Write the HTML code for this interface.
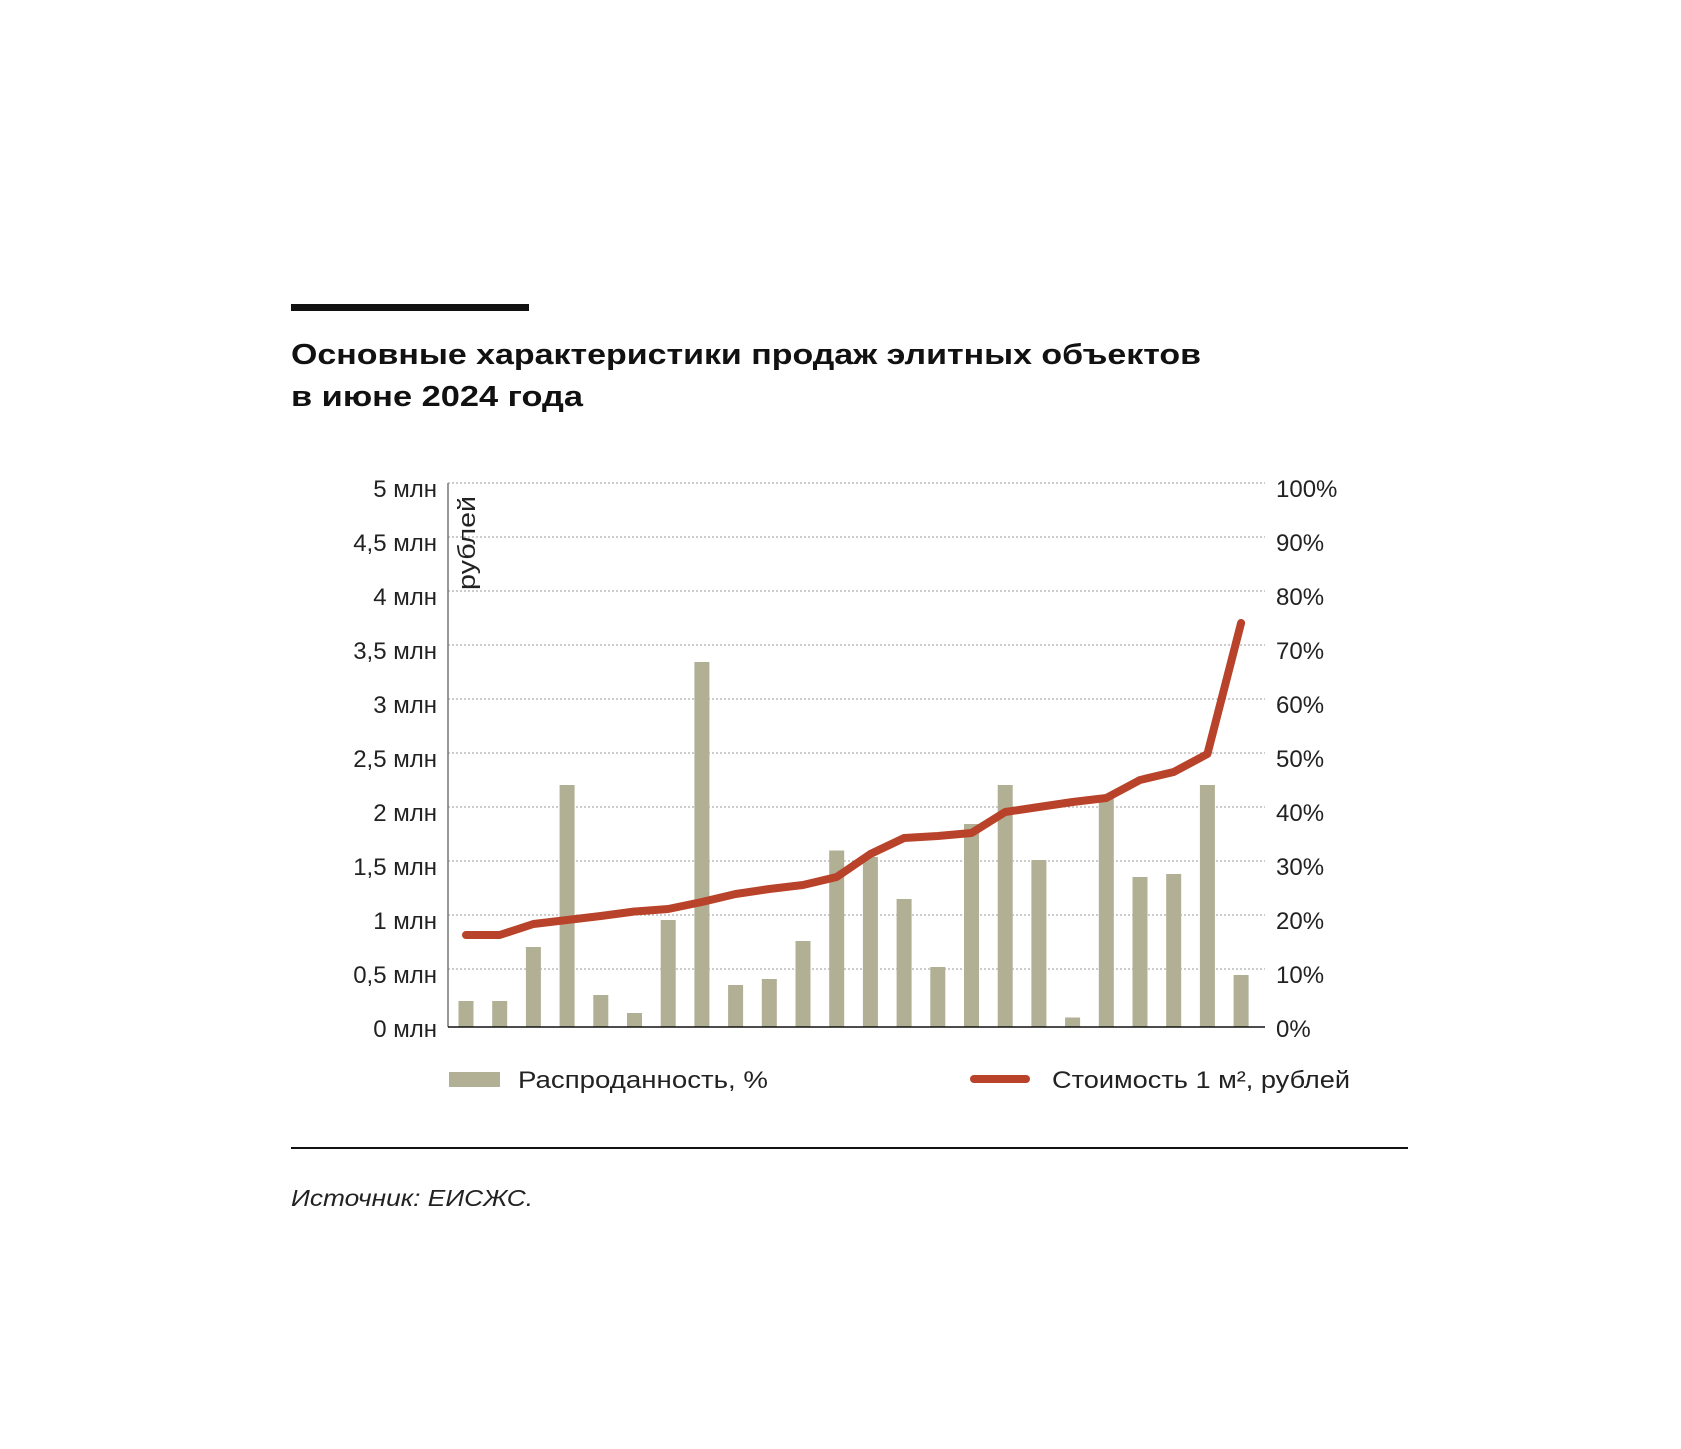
<!DOCTYPE html>
<html><head><meta charset="utf-8"><style>
html,body{margin:0;padding:0;background:#fff;}
svg{display:block;}
text{font-family:"Liberation Sans",sans-serif;fill:#222;}
</style></head><body>
<svg width="1681" height="1449" viewBox="0 0 1681 1449" xmlns="http://www.w3.org/2000/svg">
<rect x="291" y="304" width="238" height="7" fill="#111"/>
<text x="291" y="364" font-size="29" font-weight="600" textLength="910" lengthAdjust="spacingAndGlyphs" style="fill:#111">Основные характеристики продаж элитных объектов</text>
<text x="291" y="406" font-size="29" font-weight="600" textLength="292" lengthAdjust="spacingAndGlyphs" style="fill:#111">в июне 2024 года</text>
<g stroke="#999" stroke-width="1" stroke-dasharray="2,2">
<line x1="448" y1="483" x2="1265" y2="483"/><line x1="448" y1="537" x2="1265" y2="537"/>
<line x1="448" y1="591" x2="1265" y2="591"/><line x1="448" y1="645" x2="1265" y2="645"/>
<line x1="448" y1="699" x2="1265" y2="699"/><line x1="448" y1="753" x2="1265" y2="753"/>
<line x1="448" y1="807" x2="1265" y2="807"/><line x1="448" y1="861" x2="1265" y2="861"/>
<line x1="448" y1="915" x2="1265" y2="915"/><line x1="448" y1="969" x2="1265" y2="969"/>
</g>
<line x1="448" y1="483" x2="448" y2="1027" stroke="#777" stroke-width="1.5"/>
<g font-size="24" text-anchor="end">
<text x="437" y="497">5 млн</text><text x="437" y="551">4,5 млн</text><text x="437" y="605">4 млн</text>
<text x="437" y="659">3,5 млн</text><text x="437" y="713">3 млн</text><text x="437" y="767">2,5 млн</text>
<text x="437" y="821">2 млн</text><text x="437" y="875">1,5 млн</text><text x="437" y="929">1 млн</text>
<text x="437" y="983">0,5 млн</text><text x="437" y="1037">0 млн</text>
</g>
<g font-size="24">
<text x="1276" y="497">100%</text><text x="1276" y="551">90%</text><text x="1276" y="605">80%</text>
<text x="1276" y="659">70%</text><text x="1276" y="713">60%</text><text x="1276" y="767">50%</text>
<text x="1276" y="821">40%</text><text x="1276" y="875">30%</text><text x="1276" y="929">20%</text>
<text x="1276" y="983">10%</text><text x="1276" y="1037">0%</text>
</g>
<text transform="translate(475,590) rotate(-90)" font-size="24" textLength="94" lengthAdjust="spacingAndGlyphs">рублей</text>
<g fill="#b1af94">
<rect x="458.5" y="1001" width="15" height="26"/>
<rect x="492.2" y="1001" width="15" height="26"/>
<rect x="525.9" y="947" width="15" height="80"/>
<rect x="559.6" y="785" width="15" height="242"/>
<rect x="593.3" y="995" width="15" height="32"/>
<rect x="627" y="1013" width="15" height="14"/>
<rect x="660.7" y="920" width="15" height="107"/>
<rect x="694.4" y="662" width="15" height="365"/>
<rect x="728.1" y="985" width="15" height="42"/>
<rect x="761.8" y="979" width="15" height="48"/>
<rect x="795.5" y="941" width="15" height="86"/>
<rect x="829.2" y="850.5" width="15" height="176.5"/>
<rect x="862.9" y="857" width="15" height="170"/>
<rect x="896.6" y="899" width="15" height="128"/>
<rect x="930.3" y="967" width="15" height="60"/>
<rect x="964" y="824" width="15" height="203"/>
<rect x="997.7" y="785" width="15" height="242"/>
<rect x="1031.4" y="860" width="15" height="167"/>
<rect x="1065.1" y="1017.5" width="15" height="9.5"/>
<rect x="1098.8" y="796" width="15" height="231"/>
<rect x="1132.5" y="877" width="15" height="150"/>
<rect x="1166.2" y="874" width="15" height="153"/>
<rect x="1199.9" y="785" width="15" height="242"/>
<rect x="1233.6" y="975" width="15" height="52"/>
</g>
<line x1="448" y1="1027" x2="1265" y2="1027" stroke="#111" stroke-width="1.5"/>
<polyline fill="none" stroke="#b9432a" stroke-width="8" stroke-linecap="round" stroke-linejoin="round" points="466,935 499.7,935 533.4,924 567.1,920 600.8,916 634.5,911.5 668.2,909 701.9,902 735.6,894 769.3,889 803,885 836.7,877 870.4,854 904.1,838 937.8,836 971.5,833 1005.2,812 1038.9,807 1072.6,802 1106.3,798 1140,780 1173.7,772 1207.4,754 1241.1,623"/>
<rect x="449" y="1072" width="51" height="15" fill="#b1af94"/>
<text x="518" y="1088" font-size="24" textLength="250" lengthAdjust="spacingAndGlyphs">Распроданность, %</text>
<line x1="974" y1="1079" x2="1026" y2="1079" stroke="#b9432a" stroke-width="8" stroke-linecap="round"/>
<text x="1052" y="1088" font-size="24" textLength="298" lengthAdjust="spacingAndGlyphs">Стоимость 1 м², рублей</text>
<rect x="291" y="1147" width="1117" height="2" fill="#111"/>
<text x="291" y="1206" font-size="23" font-style="italic" textLength="242" lengthAdjust="spacingAndGlyphs">Источник: ЕИСЖС.</text>
</svg>
</body></html>
